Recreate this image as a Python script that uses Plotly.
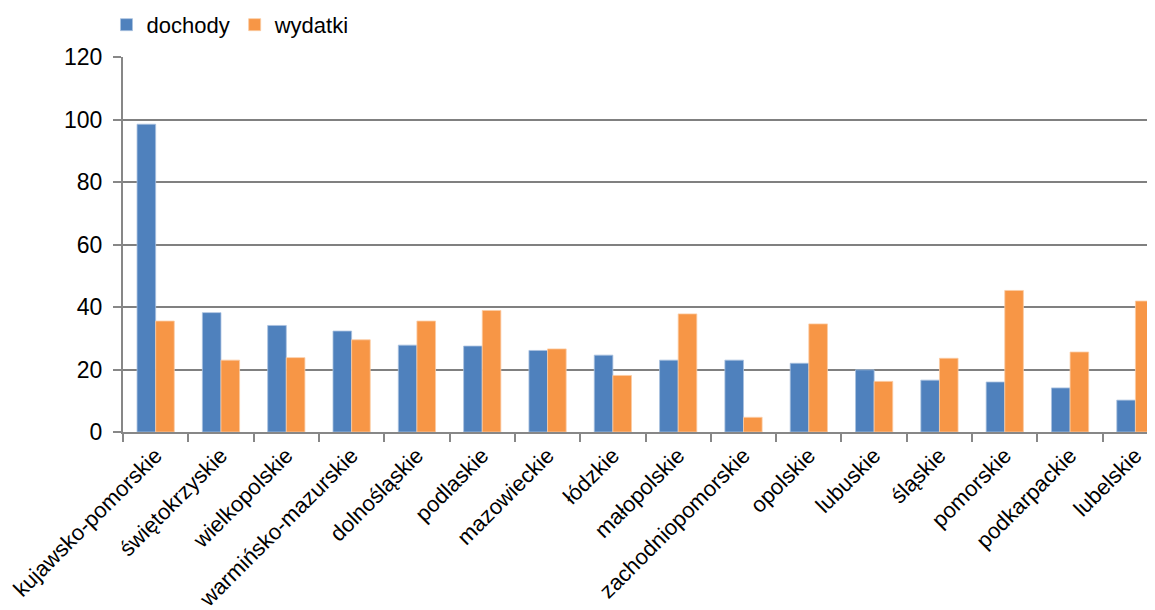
import plotly.graph_objects as go

regions = ["kujawsko-pomorskie", "świętokrzyskie", "wielkopolskie", "warmińsko-mazurskie",
           "dolnośląskie", "podlaskie", "mazowieckie", "łódzkie", "małopolskie",
           "zachodniopomorskie", "opolskie", "lubuskie", "śląskie", "pomorskie",
           "podkarpackie", "lubelskie"]
dochody = [98.5, 38.2, 34.1, 32.3, 27.8, 27.5, 26.1, 24.6, 23.0, 23.0, 22.0, 19.9, 16.6, 16.0, 14.1, 10.2]
wydatki = [35.5, 23.0, 23.8, 29.5, 35.5, 38.9, 26.6, 18.1, 37.8, 4.7, 34.6, 16.2, 23.6, 45.3, 25.6, 41.9]
y_ticks = [0, 20, 40, 60, 80, 100, 120]

FONT = "Liberation Sans, Arial, sans-serif"
fig = go.Figure()
fig.add_bar(x=regions, y=dochody, name="dochody", marker_color="#4F81BD",
            marker_line=dict(color="#A9C1E0", width=0.8))
fig.add_bar(x=regions, y=wydatki, name="wydatki", marker_color="#F79646",
            marker_line=dict(color="#FBCBA3", width=0.8))

fig.update_layout(
    width=1147, height=602,
    margin=dict(l=115, r=0, t=49, b=178),
    paper_bgcolor="white", plot_bgcolor="white",
    barmode="group", bargap=0.43, bargroupgap=0,
    font=dict(family=FONT, size=22, color="#000000"),
    legend=dict(orientation="h", x=-0.016, y=0.972, yref="container",
                xanchor="left", yanchor="middle",
                font=dict(size=22), itemwidth=30, traceorder="normal",
                bgcolor="rgba(0,0,0,0)"),
    xaxis=dict(type="category", range=[-0.5, 15.3], tickangle=-45, tickson="boundaries",
               ticks="outside", ticklen=8, tickwidth=2, tickcolor="#878787",
               showline=True, linecolor="#878787", linewidth=2, showgrid=False,
               tickfont=dict(size=22), automargin=False),
    yaxis=dict(range=[0, 120], tickvals=y_ticks, showgrid=True, gridcolor="#808080",
               gridwidth=2, showline=True, linecolor="#878787", linewidth=2,
               ticks="outside", ticklen=8, tickwidth=2, tickcolor="#878787",
               zeroline=False, tickfont=dict(size=23), ticklabelstandoff=6,
               automargin=False),
)
fig.write_html("out.html")
